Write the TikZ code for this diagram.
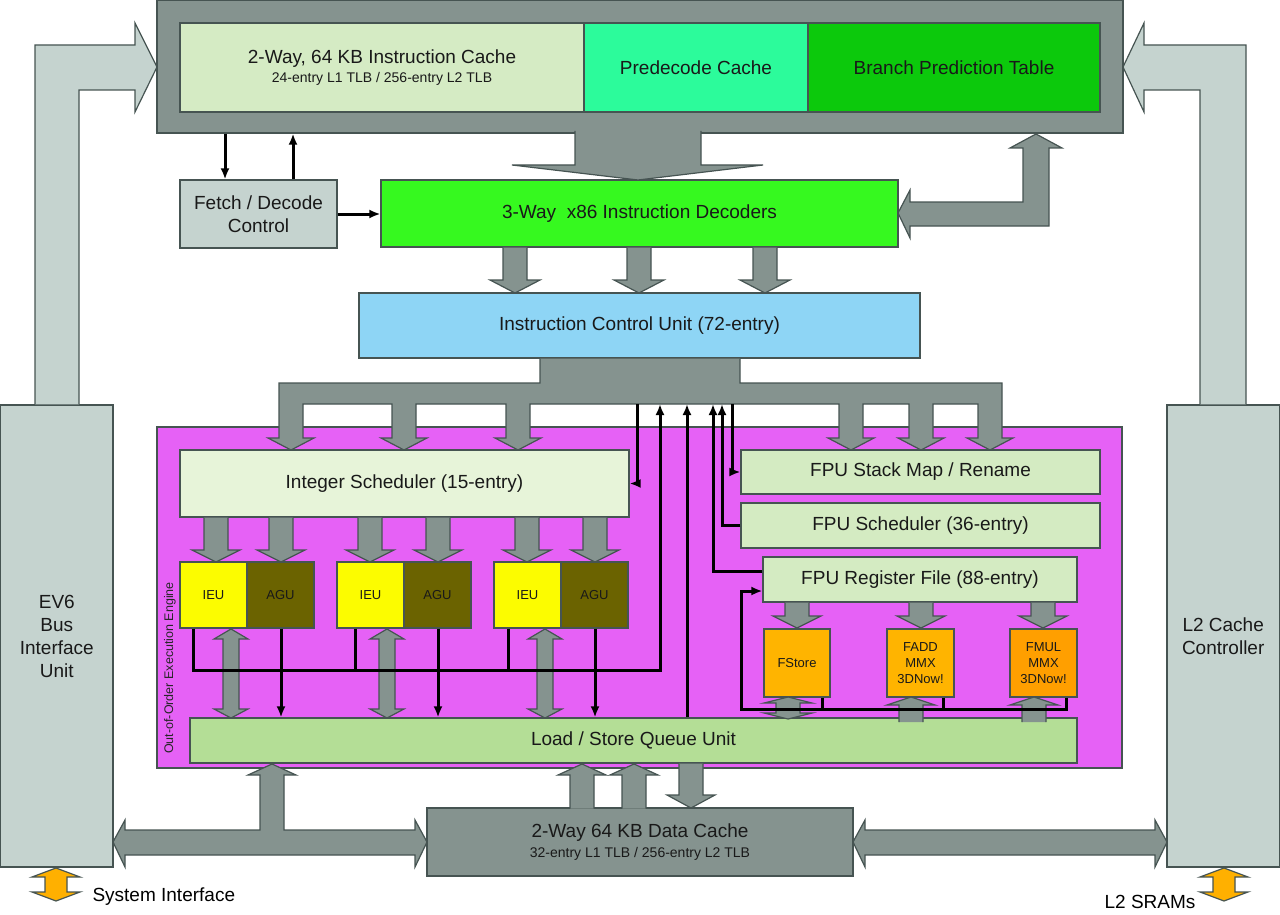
\documentclass[tikz,border=0pt]{standalone}
\usepackage{fontspec}
\setmainfont{Liberation Sans}
\usetikzlibrary{arrows.meta}
\definecolor{edge}{HTML}{465452}
\definecolor{busgray}{HTML}{85938F}
\definecolor{side}{HTML}{C5D3CF}
\definecolor{icachegreen}{HTML}{D5EBC4}
\definecolor{predecgreen}{HTML}{2CFB9B}
\definecolor{branchgreen}{HTML}{0CC90C}
\definecolor{decodegreen}{HTML}{36F91F}
\definecolor{icublue}{HTML}{8ED5F5}
\definecolor{ooopink}{HTML}{E661F6}
\definecolor{schedpale}{HTML}{E7F4D9}
\definecolor{fpupale}{HTML}{D4EBC2}
\definecolor{lsqgreen}{HTML}{B4DE96}
\definecolor{ieuyellow}{HTML}{FCFC00}
\definecolor{aguolive}{HTML}{6B6300}
\definecolor{fexec}{HTML}{FFB400}
\definecolor{fmulorange}{HTML}{FF9F00}
\definecolor{sysorange}{HTML}{FFB000}

\begin{document}
\begin{tikzpicture}[x=1pt,y=-1pt,>=Latex,
 blk/.style={draw=edge,line width=1.2pt,inner sep=0pt,text=black!90,font=\fontsize{19}{23}\selectfont},
 area/.style n args={4}{minimum width={((#3)-(#1))*1pt},minimum height={((#4)-(#2))*1pt},at={({((#1)+(#3))/2},{((#2)+(#4))/2})}},
 sm/.style={font=\fontsize{13}{16}\selectfont},
 fat/.style={fill=busgray,draw=edge,line width=1.2pt,line join=miter},
 sig/.style={-{Latex[length=11pt,width=9pt]},line width=3pt,black},
 wire/.style={line width=3pt,black}]
 \useasboundingbox (0,0) rectangle (1280,915);
 % front end
 \node[blk,fill=busgray,area={157}{0.6}{1123}{133}] (frame) {};
 \node[blk,align=center,fill=icachegreen,area={180}{23}{584}{112}] (icache) {2-Way, 64 KB Instruction Cache\\[-3.5pt]{\fontsize{14}{16}\selectfont 24-entry L1 TLB / 256-entry L2 TLB}};
 \node[blk,fill=predecgreen,area={584}{23}{808}{112}] (predec) {Predecode Cache};
 \node[blk,fill=branchgreen,area={808}{23}{1100}{112}] (bpt) {Branch Prediction Table};
 \node[blk,align=center,fill=side,area={180}{180}{337}{248}] (fetch) {Fetch / Decode\\Control};
 \node[blk,fill=decodegreen,area={381}{180}{898}{247}] (dec) {3-Way~ x86 Instruction Decoders};
 \node[blk,fill=icublue,area={359}{293}{920}{358}] (icu) {Instruction Control Unit (72-entry)};
 % execution engine
 \node[blk,fill=ooopink,area={157}{427}{1122}{768}] (ooo) {};
 \node[rotate=90,font=\fontsize{12.5}{14}\selectfont,text=black!85] (oootxt) at (170,668) {Out-of-Order Execution Engine};
 \node[blk,fill=schedpale,area={180}{450}{629}{517}] (isched) {Integer Scheduler (15-entry)};
 \foreach \i/\x in {1/180,2/337,3/494} {
  \node[blk,sm,fill=ieuyellow,area={\x}{562}{\x+67}{628}] (ieu\i) {IEU};
  \node[blk,sm,fill=aguolive,area={\x+67}{562}{\x+134}{628}] (agu\i) {AGU};
 }
 \node[blk,fill=fpupale,area={741}{450}{1100}{494}] (stackmap) {FPU Stack Map / Rename};
 \node[blk,fill=fpupale,area={741}{503}{1100}{548}] (fpusched) {FPU Scheduler (36-entry)};
 \node[blk,fill=fpupale,area={763}{557}{1077}{602}] (fpuregs) {FPU Register File (88-entry)};
 \node[blk,sm,fill=fexec,area={764}{629}{830}{697}] (fstore) {FStore};
 \node[blk,sm,align=center,fill=fexec,area={887}{629}{954}{697}] (fadd) {FADD\\MMX\\3DNow!};
 \node[blk,sm,align=center,fill=fmulorange,area={1010}{629}{1077}{697}] (fmul) {FMUL\\MMX\\3DNow!};
 \node[blk,fill=lsqgreen,area={190}{718}{1077}{763}] (lsq) {Load / Store Queue Unit};
 % memory side
 \node[blk,align=center,fill=busgray,area={427}{808}{853}{876}] (dcache) {2-Way 64 KB Data Cache\\[-3.5pt]{\fontsize{14}{16}\selectfont 32-entry L1 TLB / 256-entry L2 TLB}};
 \node[blk,align=center,fill=side,area={0.6}{405}{113}{867}] (ev6) {EV6\\Bus\\Interface\\Unit};
 \node[blk,align=center,fill=side,area={1167}{405}{1279.4}{867}] (l2) {L2 Cache\\Controller};
 \node[anchor=west,font=\fontsize{19}{23}\selectfont] (sysif) at (89,897) {System Interface};
 \node[anchor=east,font=\fontsize{19}{23}\selectfont] (l2sram) at (1199,902) {L2 SRAMs};
 \coordinate (bus) at (0,404);

 % wide buses
 \filldraw[fat,fill=side] (35,404.4) -- (35,45) -- (135,45) -- (135,23) -- (157,67) -- (135,112) -- (135,90) -- (79,90) -- (79,404.4);
 \filldraw[fat,fill=side] (1246,404.4) -- (1246,45) -- (1144,45) -- (1144,23) -- (1123,67) -- (1144,112) -- (1144,90) -- (1200,90) -- (1200,404.4);
 \filldraw[fat] (575,131) -- (575,165) -- (512,165) -- (638,180) -- (763,165) -- (701,165) -- (701,131);
 \filldraw[fat] (898,213) -- (910,190) -- (910,202) -- (1023,202) -- (1023,148) -- (1010,148) -- (1036,134) -- (1062,148) -- (1049,148) -- (1049,226) -- (910,226) -- (910,238) -- cycle;
 \foreach \x in {515,639,765}
  \filldraw[fat] (\x-12,247.6) -- (\x-12,280) -- (\x-25,280) -- (\x,293) -- (\x+25,280) -- (\x+12,280) -- (\x+12,247.6);
 \filldraw[fat] (540,358.6) -- (540,383) -- (279,383)
  \foreach \x in {291,404,518,851,921,990} { -- (\x-12,404) -- (\x-12,438) -- (\x-23,438) -- (\x,450) -- (\x+23,438) -- (\x+12,438) -- (\x+12,404) }
  -- (1002,383) -- (740,383) -- (740,358.6);
 \foreach \x in {216,281,370,438,527,595}
  \filldraw[fat] (\x-12,517.6) -- (\x-12,550) -- (\x-24,550) -- (\x,562) -- (\x+24,550) -- (\x+12,550) -- (\x+12,517.6);
 \foreach \x in {797,921,1043}
  \filldraw[fat] (\x-12,602.6) -- (\x-12,616) -- (\x-24,616) -- (\x,628) -- (\x+24,616) -- (\x+12,616) -- (\x+12,602.6);
 \foreach \x in {231,387,545}
  \filldraw[fat] (\x,629) -- (\x+17,639) -- (\x+8,639) -- (\x+8,709) -- (\x+17,709) -- (\x,718) -- (\x-17,709) -- (\x-8,709) -- (\x-8,639) -- (\x-17,639) -- cycle;
 \filldraw[fat] (788,697) -- (812,703) -- (800,703) -- (800,713) -- (812,713) -- (788,719) -- (764,713) -- (776,713) -- (776,703) -- (764,703) -- cycle;
 \foreach \x in {911,1034}
  \filldraw[fat] (\x-12,722) -- (\x-12,705) -- (\x-24,705) -- (\x,697) -- (\x+24,705) -- (\x+12,705) -- (\x+12,722);
 \foreach \x in {582,634}
  \filldraw[fat] (\x-12,808.6) -- (\x-12,775) -- (\x-24,775) -- (\x,764) -- (\x+24,775) -- (\x+12,775) -- (\x+12,808.6);
 \filldraw[fat] (679,763.6) -- (679,795) -- (667,795) -- (691,808) -- (715,795) -- (703,795) -- (703,763.6);
 \filldraw[fat] (113,842) -- (125,820) -- (125,830) -- (260,830) -- (260,775) -- (248,775) -- (272,764) -- (296,775) -- (284,775) -- (284,830) -- (415,830) -- (415,820) -- (427,842) -- (415,867) -- (415,855) -- (125,855) -- (125,867) -- cycle;
 \filldraw[fat] (853,842) -- (865,820) -- (865,830) -- (1155,830) -- (1155,820) -- (1167,842) -- (1155,867) -- (1155,855) -- (865,855) -- (865,867) -- cycle;
 \foreach \x in {56,1224}
  \filldraw[fat,fill=sysorange] (\x,868) -- (\x+24,877) -- (\x+11,877) -- (\x+11,892) -- (\x+24,892) -- (\x,901) -- (\x-24,892) -- (\x-11,892) -- (\x-11,877) -- (\x-24,877) -- cycle;

 % control lines
 \draw[sig] (225,0 |- frame.south) -- (225,0 |- fetch.north);
 \draw[sig] (293,0 |- fetch.north) -- (293,0 |- frame.south);
 \draw[sig] (fetch.east) -- (fetch.east -| dec.west);
 \draw[sig] (637,0 |- bus) |- (isched.east);
 \draw[sig] (193,0 |- ieu1.south) |- (660,670) -- (660,0 |- bus);
 \foreach \x in {355,508} \draw[wire] (\x,0 |- ieu1.south) -- (\x,670);
 \foreach \x in {281,438,595} \draw[sig] (\x,0 |- agu1.south) -- (\x,0 |- lsq.north);
 \draw[sig] (687,0 |- lsq.north) -- (687,0 |- bus);
 \draw[sig] (fpuregs.west |- 0,571) -| (713,0 |- bus);
 \draw[sig] (fpusched.west) -| (722,0 |- bus);
 \draw[sig] (732,0 |- bus) |- (stackmap.west);
 \draw[sig] (1066,0 |- fmul.south) |- (741,709) |- (fpuregs.west |- 0,591);
 \foreach \x in {822,943} \draw[wire] (\x,0 |- fstore.south) -- (\x,709);
\end{tikzpicture}
\end{document}
